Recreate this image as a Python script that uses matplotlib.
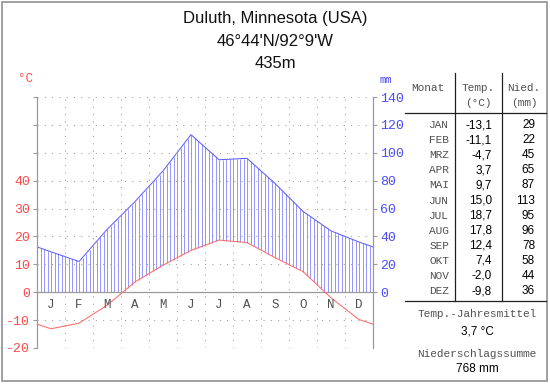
import matplotlib
matplotlib.use("Agg")
import numpy as np
import matplotlib.pyplot as plt
from matplotlib.lines import Line2D
from matplotlib.patches import Rectangle

# climate data
months = ["J", "F", "M", "A", "M", "J", "J", "A", "S", "O", "N", "D"]
month_names = ["JAN", "FEB", "MRZ", "APR", "MAI", "JUN",
               "JUL", "AUG", "SEP", "OKT", "NOV", "DEZ"]
temp = [-13.1, -11.1, -4.7, 3.7, 9.7, 15.0, 18.7, 17.8, 12.4, 7.4, -2.0, -9.8]
precip = [29, 22, 45, 65, 87, 113, 95, 96, 78, 58, 44, 36]
temp_labels = ["-13,1", "-11,1", "-4,7", "3,7", "9,7", "15,0",
               "18,7", "17,8", "12,4", "7,4", "-2,0", "-9,8"]
title_lines = ["Duluth, Minnesota (USA)", "46°44'N/92°9'W", "435m"]
mean_temp = "3,7 °C"
sum_precip = "768 mm"

W, H = 550, 384
RED = "#ff6a6a"
RED_TXT = "#ff4a4a"
BLUE = "#6060ff"
BLUE_TXT = "#4a4aff"
HATCH = "#9494ff"
GRAY = "#9a9a9a"
MONO = "Liberation Mono"
SANS = "Liberation Sans"


def fx(x):
    return x / W


def fy(y):
    return 1 - y / H


fig = plt.figure(figsize=(W / 100, H / 100), dpi=100)
fig.patch.set_facecolor("white")

# chart area: x 37..373 px, y 97 (70 C) .. 348 (-20 C)
ax = fig.add_axes([fx(37), fy(348), (373 - 37) / W, (348 - 97) / H])
ax2 = ax.twinx()
ax.set_xlim(0, 12)
ax.set_ylim(-20, 70)
ax2.set_ylim(-40, 140)

# extend series to the edges (mean of Dec and Jan)
xs = np.concatenate([[0], np.arange(12) + 0.5, [12]])
t_edge = (temp[0] + temp[-1]) / 2
p_edge = (precip[0] + precip[-1]) / 2
t_ext = np.concatenate([[t_edge], temp, [t_edge]])
p_ext = np.concatenate([[p_edge], precip, [p_edge]])

# dotted grid
dots = dict(color=GRAY, lw=0.75, linestyle=(0, (1, 6)), zorder=1)
for v in range(-20, 80, 10):
    ax.plot([0, 12], [v, v], **dots)
for m in range(1, 12):
    ax.plot([m, m], [-20, 70], **dots)

# humid period hatching
hx = np.linspace(0, 12, 97)
ht = np.interp(hx, xs, t_ext)
hp = np.interp(hx, xs, p_ext)
low = np.maximum(ht * 2, 0)
ax2.vlines(hx, low, hp, color=HATCH, lw=0.7, zorder=2)

ax2.plot(xs, p_ext, color=BLUE, lw=0.75, zorder=3)
ax.plot(xs, t_ext, color=RED, lw=0.75, zorder=3)
ax.axhline(0, color=GRAY, lw=0.9, zorder=2)

# axes styling
for a in (ax, ax2):
    a.set_facecolor("none")
    for s in ("top", "bottom"):
        a.spines[s].set_visible(False)
    a.set_xticks([])
ax.spines["right"].set_visible(False)
ax2.spines["left"].set_visible(False)
ax.spines["left"].set_color(GRAY)
ax2.spines["right"].set_color(GRAY)
ax.spines["left"].set_linewidth(0.9)
ax2.spines["right"].set_linewidth(0.9)
ax.set_zorder(3)
ax2.set_zorder(2)

ax.set_yticks(range(-20, 80, 10))
ax.set_yticklabels([str(v) if v <= 40 else "" for v in range(-20, 80, 10)])
ax.tick_params(axis="y", colors=GRAY, labelcolor=RED_TXT, length=3, width=0.8,
               labelsize=9.5, pad=2)
ax2.set_yticks(range(0, 160, 20))
ax2.tick_params(axis="y", colors=GRAY, labelcolor=BLUE_TXT, length=3,
                width=0.8, labelsize=9.5, pad=2)
for lab in ax.get_yticklabels() + ax2.get_yticklabels():
    lab.set_family(MONO)

for i, m in enumerate(months):
    ax.text(i + 0.5, -4.7, m, ha="center", va="center", family=MONO,
            fontsize=9, color="#505050")

fig.text(fx(25), fy(79), "°C", color=RED_TXT, family=MONO, fontsize=9,
         ha="center", va="center")
fig.text(fx(386), fy(80), "mm", color=BLUE_TXT, family=MONO, fontsize=7.5,
         ha="center", va="center")

# title
for y, line in zip([18, 41, 63], title_lines):
    fig.text(fx(275), fy(y), line, family=SANS, fontsize=12, ha="center",
             va="center", color="#111111")

# table
tcol = "#505050"
fig.text(fx(428), fy(88), "Monat", family=MONO, fontsize=8, color=tcol,
         ha="center", va="center")
fig.text(fx(478), fy(88), "Temp.", family=MONO, fontsize=8, color=tcol,
         ha="center", va="center")
fig.text(fx(478), fy(103), "(°C)", family=MONO, fontsize=8, color=tcol,
         ha="center", va="center")
fig.text(fx(524), fy(88), "Nied.", family=MONO, fontsize=8, color=tcol,
         ha="center", va="center")
fig.text(fx(524), fy(103), "(mm)", family=MONO, fontsize=8, color=tcol,
         ha="center", va="center")

for i in range(12):
    y = 125 + i * 15.1
    fig.text(fx(449), fy(y), month_names[i], family=MONO, fontsize=8,
             color=tcol, ha="right", va="center")
    fig.text(fx(492), fy(y), temp_labels[i], family=SANS, fontsize=8.5,
             color="black", ha="right", va="center")
    fig.text(fx(535), fy(y), str(precip[i]), family=SANS, fontsize=8.5,
             color="black", ha="right", va="center")

lk = dict(color="#202020", lw=0.9, transform=fig.transFigure)
fig.add_artist(Line2D([fx(455), fx(455)], [fy(73), fy(301)], **lk))
fig.add_artist(Line2D([fx(502), fx(502)], [fy(73), fy(301)], **lk))
fig.add_artist(Line2D([fx(405), fx(546)], [fy(113), fy(113)], **lk))
fig.add_artist(Line2D([fx(405), fx(546)], [fy(301), fy(301)], **lk))

fig.text(fx(477), fy(314), "Temp.-Jahresmittel", family=MONO, fontsize=8,
         color=tcol, ha="center", va="center")
fig.text(fx(477), fy(331), mean_temp, family=SANS, fontsize=8.5,
         color="black", ha="center", va="center")
fig.text(fx(477), fy(354), "Niederschlagssumme", family=MONO, fontsize=8,
         color=tcol, ha="center", va="center")
fig.text(fx(477), fy(369), sum_precip, family=SANS, fontsize=8.5,
         color="black", ha="center", va="center")

# frame
fig.add_artist(Rectangle((fx(2), fy(381)), fx(545), 379 / H, fill=False,
                         edgecolor="#909090", lw=1.2,
                         transform=fig.transFigure))

fig.savefig("out.png", dpi=100)
plt.close(fig)
